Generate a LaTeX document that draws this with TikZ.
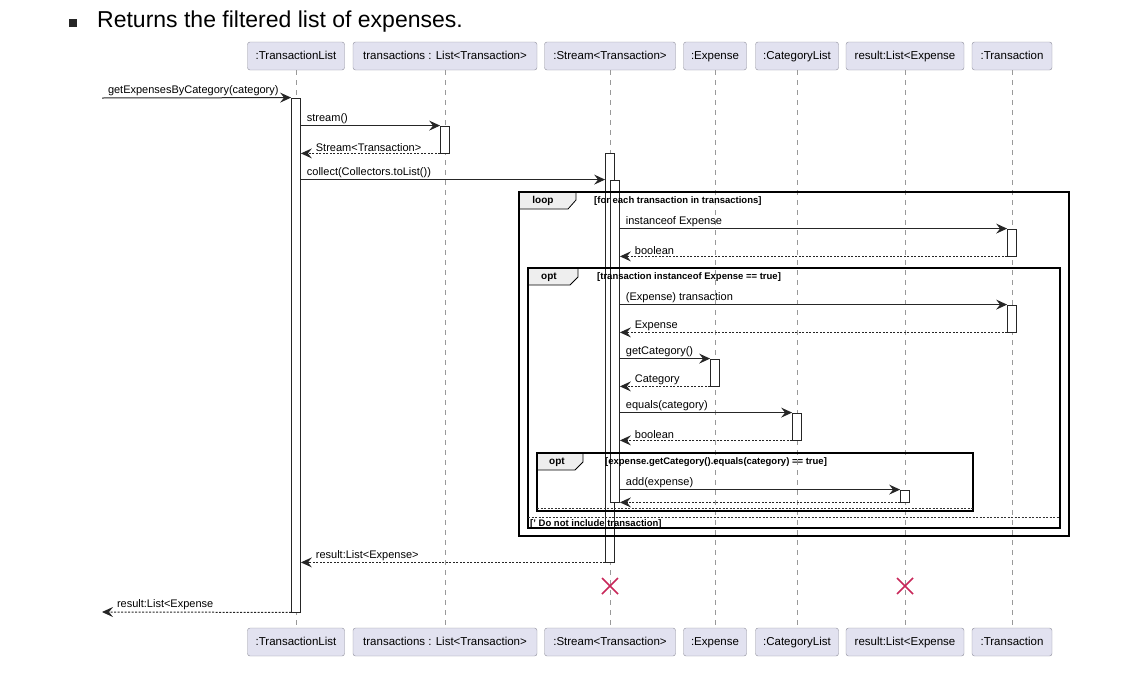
\documentclass[tikz,border=0pt]{standalone}
\usepackage{fontspec}
\setmainfont{Liberation Sans}
\usetikzlibrary{arrows.meta}

\definecolor{partfill}{HTML}{E2E2F0}
\definecolor{partdraw}{HTML}{8E8E9A}
\definecolor{tabfill}{HTML}{EEEEEE}
\definecolor{destroyred}{HTML}{C8285A}

\tikzset{
  part/.style={draw=partdraw, fill=partfill, rounded corners=2.5pt, minimum height=28, inner sep=0, text height=8.5pt, text depth=2.5pt, font=\fontsize{11.5}{13}\selectfont},
  life/.style={draw=gray!80, dash pattern=on 5pt off 5pt, line width=0.7pt},
  act/.style={draw=black!85, fill=white, minimum width=9, inner sep=0, line width=0.8pt},
  msg/.style={draw=black!85, line width=1pt, -{Stealth[length=11pt,width=10pt,inset=4pt]}},
  ret/.style={msg, dash pattern=on 2pt off 1.5pt},
  lbl/.style={font=\fontsize{11}{13}\selectfont, inner sep=1.5pt, anchor=south west},
  frame/.style={draw=black, line width=1.3pt},
  tab/.style={draw=black, fill=tabfill, line width=0.8pt},
  tablbl/.style={font=\fontsize{10}{12}\selectfont\bfseries, inner sep=0},
  guard/.style={font=\fontsize{9.5}{11}\selectfont\bfseries, anchor=west, inner sep=0},
  kill/.style={draw=destroyred, line width=1.5pt}
}

\begin{document}
\begin{tikzpicture}[x=1pt, y=-1pt]
\useasboundingbox (0,0) rectangle (1121,675);

% heading
\node[fill=black!85, minimum size=8, inner sep=0] (bullet) at (72.5,22.5) {};
\node[anchor=base west, inner sep=0, font=\fontsize{23}{27}\selectfont] (title) at (97,27) {Returns the filtered list of expenses.};

% participants and lifelines
\foreach \n/\x/\w/\t in {tl/296/97/{:TransactionList},
    trs/445/184/{transactions : List<Transaction>},
    str/610/131/{:Stream<Transaction>},
    exp/715/63/{:Expense},
    cat/797/83/{:CategoryList},
    res/905/118/{result:List<Expense},
    tra/1012/80/{:Transaction}}{
  \node[part, minimum width=\w] (\n) at (\x,56) {\t};
  \node[part, minimum width=\w] (\n-b) at (\x,642) {\t};
  \draw[life] (\n) -- (\n-b);
}

% activations
\node[act, minimum height=514] (a-tl) at (296,355) {};
\node[act, minimum height=27] (a-trs) at (445,139.5) {};
\node[act, minimum height=409] (a-str) at (610,357.5) {};
\node[act, minimum height=322] (a-str2) at (615,341) {};
\node[act, minimum height=27] (a-tra1) at (1012,242.5) {};
\node[act, minimum height=27] (a-tra2) at (1012,318.5) {};
\node[act, minimum height=27] (a-exp) at (715,372.5) {};
\node[act, minimum height=27] (a-cat) at (797,426.5) {};
\node[act, minimum height=12] (a-res) at (905,496) {};

% frames
\draw[tab] (519,192) -- (576,192) -- (576,200) -- (568,209) -- (519,209) -- cycle;
\draw[frame] (519,192) rectangle (1069,536);
\node[tablbl] (loop) at (543,200.5) {loop};
\node[guard] (g-loop) at (594,201) {[for each transaction in transactions]};

\draw[tab] (528,268) -- (578,268) -- (578,277) -- (570,285) -- (528,285) -- cycle;
\draw[frame] (528,268) rectangle (1060,528);
\node[tablbl] (opt1) at (549,277) {opt};
\node[guard] (g-opt1) at (597,277) {[transaction instanceof Expense == true]};
\draw[draw=black!80, dash pattern=on 2pt off 1.5pt, line width=0.8pt] (528,517) -- (1060,517);
\node[guard] (g-else) at (530,524) {[' Do not include transaction]};

\draw[tab] (537,453) -- (583,453) -- (583,462) -- (575,470) -- (537,470) -- cycle;
\draw[frame] (537,453) rectangle (973,511);
\node[tablbl] (opt2) at (557,462) {opt};
\node[guard] (g-opt2) at (605,462) {[expense.getCategory().equals(category) == true]};
\draw[draw=black!80, dash pattern=on 2pt off 1.5pt, line width=0.8pt] (537,508) -- (973,508);

% messages
\coordinate (caller) at (102,98);
\coordinate (back) at (102,612);
\draw[msg] (caller) -- node[lbl, pos=0, xshift=4pt] {getExpensesByCategory(category)} (a-tl.north west);
\draw[msg] (a-tl.east |- a-trs.north) -- node[lbl, pos=0, xshift=4pt] {stream()} (a-trs.north west);
\draw[ret] (a-trs.south west) -- node[lbl, pos=1, xshift=13pt] {Stream<Transaction>} (a-tl.east |- a-trs.south);
\draw[msg] (a-tl.east |- a-str2.north) -- node[lbl, pos=0, xshift=4pt] {collect(Collectors.toList())} (a-str.west |- a-str2.north);
\draw[msg] (a-str2.east |- a-tra1.north) -- node[lbl, pos=0, xshift=4pt] {instanceof Expense} (a-tra1.north west);
\draw[ret] (a-tra1.south west) -- node[lbl, pos=1, xshift=13pt] {boolean} (a-str2.east |- a-tra1.south);
\draw[msg] (a-str2.east |- a-tra2.north) -- node[lbl, pos=0, xshift=4pt] {(Expense) transaction} (a-tra2.north west);
\draw[ret] (a-tra2.south west) -- node[lbl, pos=1, xshift=13pt] {Expense} (a-str2.east |- a-tra2.south);
\draw[msg] (a-str2.east |- a-exp.north) -- node[lbl, pos=0, xshift=4pt] {getCategory()} (a-exp.north west);
\draw[ret] (a-exp.south west) -- node[lbl, pos=1, xshift=13pt] {Category} (a-str2.east |- a-exp.south);
\draw[msg] (a-str2.east |- a-cat.north) -- node[lbl, pos=0, xshift=4pt] {equals(category)} (a-cat.north west);
\draw[ret] (a-cat.south west) -- node[lbl, pos=1, xshift=13pt] {boolean} (a-str2.east |- a-cat.south);
\draw[msg] (a-str2.east |- a-res.north) -- node[lbl, pos=0, xshift=4pt] {add(expense)} (a-res.north west);
\draw[ret] (a-res.south west) -- (a-str2.south east);
\draw[ret] (a-str.south west) -- node[lbl, pos=1, xshift=13pt] {result:List<Expense>} (a-tl.east |- a-str.south);
\draw[ret] (a-tl.south west) -- node[lbl, pos=1, xshift=13pt] {result:List<Expense} (back);

% destroyed
\draw[kill] (602,578) -- (618,594) (602,594) -- (618,578);
\draw[kill] (897,578) -- (913,594) (897,594) -- (913,578);
\end{tikzpicture}
\end{document}
